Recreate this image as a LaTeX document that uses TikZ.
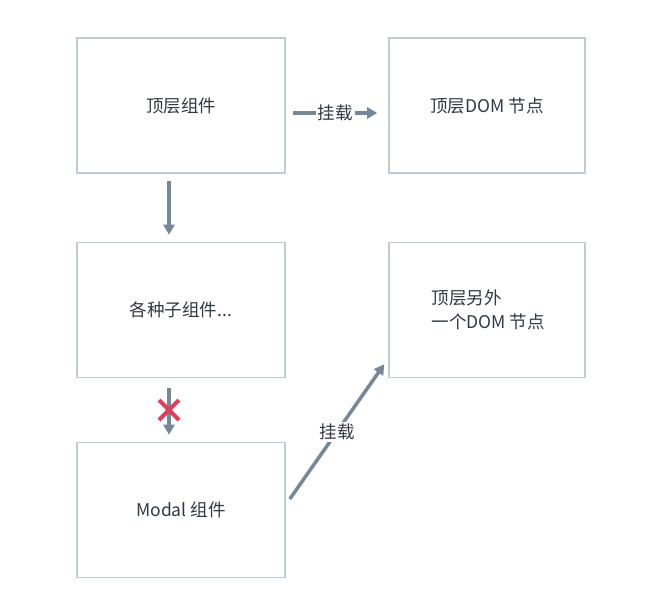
\documentclass[tikz,border=0pt]{standalone}
\usepackage{fontspec}
\setmainfont{Noto Sans CJK SC}
\usetikzlibrary{positioning,calc}
\usetikzlibrary{arrows.meta}
\definecolor{BoxLine}{RGB}{192,203,214}
\definecolor{ArrGray}{RGB}{120,135,150}
\definecolor{CrossRed}{RGB}{216,66,92}
\definecolor{TxtGray}{RGB}{50,56,66}
\tikzset{
  box/.style={draw=BoxLine,line width=1.6pt,fill=white,minimum width=208pt,minimum height=135pt,
    text=TxtGray,font=\fontsize{17.5}{23}\selectfont},
  arr/.style={draw=ArrGray,line width=3.5pt,-{Triangle[length=10pt,width=11pt]}},
  lbl/.style={fill=white,inner sep=2pt,text=TxtGray,font=\fontsize{17.5}{20}\selectfont},
}
\tikzset{cross/.style={draw=CrossRed,line width=4pt}}

\begin{document}
\begin{tikzpicture}[x=1pt,y=-1pt]
\useasboundingbox (0,0) rectangle (662,598);
\node[box] (top) at (181,105.5) {顶层组件};
\node[box,minimum width=196pt] (dom) at (487,105.5) {顶层DOM 节点};
\node[box] (sub) at (181,310) {各种子组件...};
\node[box,minimum width=196pt] (other) at (487,310) {};
\node[align=left,anchor=west,text=TxtGray,font=\fontsize{17.5}{24}\selectfont] (othertxt) at (428,310) {顶层另外\\一个DOM 节点};
\node[box] (modal) at (181,510) {Modal 组件};
\draw[arr] ([xshift=7pt,yshift=-7.5pt]top.east) -- node[lbl] (mount1) {挂载} ([xshift=-11pt,yshift=-7.5pt]dom.west);
\draw[arr] ([xshift=-12pt,yshift=-7pt]top.south) -- ([xshift=-12pt,yshift=7pt]sub.north);
\draw[arr] ([xshift=-12pt,yshift=-10pt]sub.south) -- ([xshift=-12pt,yshift=7pt]modal.north);
\draw[arr] ([xshift=4pt,yshift=11pt]modal.east) -- node[lbl] (mount2) {挂载} ([xshift=-4pt,yshift=14pt]other.south west);
\coordinate (x) at (169,410);
\draw[cross] ($(x)+(-10,-10)$) -- ($(x)+(10,10)$);
\draw[cross] ($(x)+(-10,10)$) -- ($(x)+(10,-10)$);
\end{tikzpicture}
\end{document}
